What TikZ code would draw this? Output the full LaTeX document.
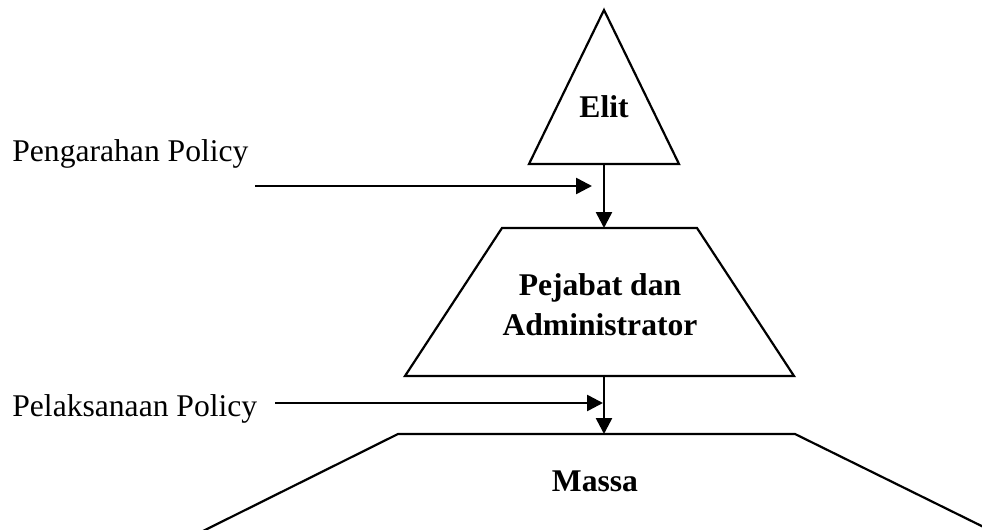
\documentclass[tikz,border=0pt]{standalone}
\usepackage{fontspec}
\setmainfont{Liberation Serif}
\usetikzlibrary{arrows.meta}
\begin{document}
\begin{tikzpicture}[x=0.5pt,y=-0.5pt,
  flow/.style={-{Triangle[length=8pt,width=8pt]}, line width=1.3pt},
  outline/.style={line width=1.1pt, line join=miter},
  lbl/.style={font=\fontsize{15.8}{20}\selectfont, inner sep=0pt},
  title/.style={font=\fontsize{15.8}{20}\selectfont\bfseries, inner sep=0pt, align=center}]
\fill[white] (0,0) rectangle (982,530);
\clip (0,0) rectangle (982,530);

% top level: elite
\coordinate (eA) at (604,10);
\coordinate (eL) at (529,164);
\coordinate (eR) at (679,164);
\coordinate (eB) at (604,164);
\draw[outline] (eA) -- (eR) -- (eL) -- cycle;
\node[title, anchor=base] (elit) at (604,118) {Elit};

% middle level: officials and administrators
\coordinate (pTL) at (502,228);
\coordinate (pTR) at (697,228);
\coordinate (pBR) at (794,376);
\coordinate (pBL) at (405,376);
\coordinate (pT) at (604,228);
\coordinate (pB) at (604,376);
\draw[outline] (pTL) -- (pTR) -- (pBR) -- (pBL) -- cycle;
\node[title, anchor=north] (pejabat) at (600,273.5) {Pejabat dan\\Administrator};

% bottom level: the masses (runs off the lower edge)
\coordinate (mL0) at (185,540);
\coordinate (mTL) at (398,434);
\coordinate (mTR) at (795,434);
\coordinate (mR0) at (1010,540);
\coordinate (mT) at (604,434);
\draw[outline] (mL0) -- (mTL) -- (mTR) -- (mR0);
\node[title, anchor=base] (massa) at (595,491) {Massa};

% flows between the levels
\draw[flow] (eB) -- (pT);
\draw[flow] (pB) -- (mT);

% side labels with their arrows
\node[lbl, anchor=base west] (arah) at (12,162) {Pengarahan Policy};
\coordinate (a1) at (255,186);
\coordinate (a2) at (592,186);
\draw[flow] (a1) -- (a2);

\node[lbl, anchor=base west] (laksana) at (12,416) {Pelaksanaan Policy};
\coordinate (b1) at (275,403);
\coordinate (b2) at (603,403);
\draw[flow] (b1) -- (b2);
\end{tikzpicture}
\end{document}
